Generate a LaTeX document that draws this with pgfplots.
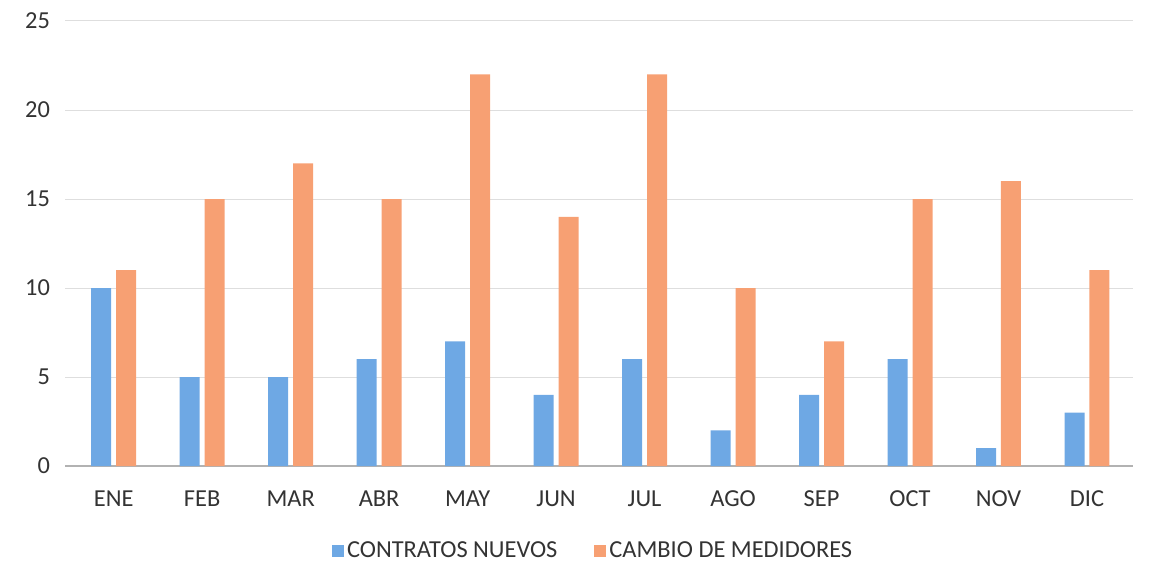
\documentclass[border=0pt]{standalone}
\usepackage{pgfplots}
\pgfplotsset{compat=1.18}
\usepackage{fontspec}
\setmainfont{Carlito}
\definecolor{cblue}{RGB}{110,168,228}
\definecolor{corange}{RGB}{247,160,115}
\definecolor{gridc}{RGB}{222,222,222}
\begin{document}
\begin{tikzpicture}
\path[use as bounding box] (0,0) rectangle (575.5pt,292.5pt);
\begin{axis}[
  at={(32.5pt,59.5pt)}, anchor=south west,
  scale only axis, width=534pt, height=222.5pt,
  xmin=-0.55, xmax=11.52, ymin=0, ymax=25,
  ytick={0,5,...,25},
  xtick={0,...,11},
  xticklabels={ENE,FEB,MAR,ABR,MAY,JUN,JUL,AGO,SEP,OCT,NOV,DIC},
  ymajorgrids, grid style={gridc, line width=0.5pt},
  axis line style={draw=none},
  major tick length=0pt,
  /pgf/number format/assume math mode=true,
  tick label style={font=\fontsize{12.2}{14}\selectfont, text=black!80},
  yticklabel style={xshift=-4pt},
  xticklabel style={yshift=-9pt},
  ybar, bar width=0.226,
  legend style={at={(0.495,-0.191)}, anchor=center, draw=none, legend columns=2,
    font=\fontsize{12.2}{14}\selectfont, text=black!80,
    /tikz/every even column/.append style={column sep=17pt},
    nodes={inner xsep=1.5pt}},
  legend image code/.code={\fill[#1] (0pt,-3pt) rectangle (6pt,3pt);},
  clip=false,
]
\draw[black!30, line width=0.6pt] (axis cs:-0.55,0) -- (axis cs:11.52,0);
\addplot[fill=cblue, draw=none, bar shift=-0.141] coordinates {
 (0,10) (1,5) (2,5) (3,6) (4,7) (5,4) (6,6) (7,2) (8,4) (9,6) (10,1) (11,3)};
\addplot[fill=corange, draw=none, bar shift=0.141] coordinates {
 (0,11) (1,15) (2,17) (3,15) (4,22) (5,14) (6,22) (7,10) (8,7) (9,15) (10,16) (11,11)};
\legend{CONTRATOS NUEVOS, CAMBIO DE MEDIDORES}
\end{axis}
\end{tikzpicture}
\end{document}
